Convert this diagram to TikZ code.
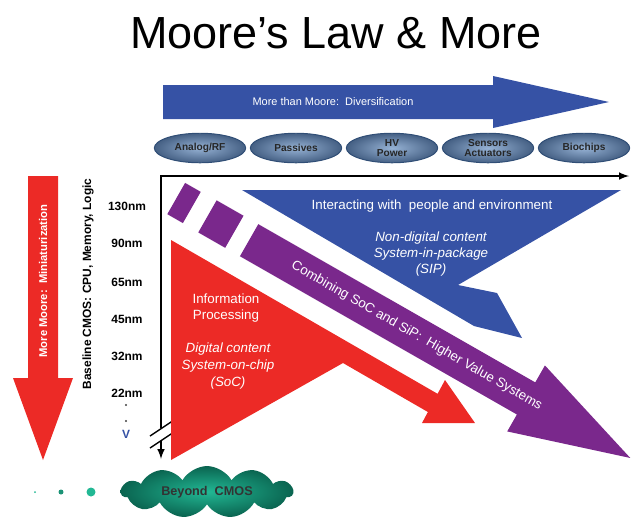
\documentclass[tikz,border=0pt]{standalone}
\usepackage{fontspec}
\setmainfont{Liberation Sans}
\usetikzlibrary{positioning, arrows, shapes.geometric, shapes.symbols}

\definecolor{mmblue}{RGB}{54,82,165}
\definecolor{mmpurple}{RGB}{122,40,140}
\definecolor{mmred}{RGB}{236,42,38}
\definecolor{mmsteel}{RGB}{150,178,212}
\definecolor{mmsteeldark}{RGB}{48,78,118}
\definecolor{mmteal}{RGB}{34,184,148}
\definecolor{mmtealdark}{RGB}{10,100,80}

\tikzset{
  techbubble/.style={ellipse, draw=mmsteeldark, line width=0.7pt, inner color=mmsteel, outer color=mmsteeldark!90, minimum width=65pt, minimum height=21pt, inner sep=0pt, font=\fontsize{7.2}{7.6}\selectfont\bfseries, text=black!85, align=center},
  nmlabel/.style={font=\fontsize{8.5}{9}\selectfont\bfseries},
  whitetext/.style={text=white, font=\fontsize{9.5}{11.5}\selectfont, align=center}
}

\begin{document}
\begin{tikzpicture}[x=0.025cm, y=-0.025cm, line join=miter]

    \useasboundingbox (0,0) rectangle (631,516);

    % Title
    \node (title) at (336,33) {\fontsize{32}{36}\selectfont Moore's Law \& More};

    % Top arrow (more than moore)
    \fill[mmblue] (163,85) -- (493,85) -- (493,76) -- (609,102) -- (493,128) -- (493,119) -- (163,119) -- cycle;
    \node[text=white, font=\fontsize{7.8}{9}\selectfont] (diversify) at (333,102) {More than Moore:\ \ Diversification};

    % Technology bubbles
    \node[techbubble] (analog) at (200,148) {Analog/RF};
    \node[techbubble] (passives) at (296,148) {Passives};
    \node[techbubble] (hvpower) at (392,148) {HV\\Power};
    \node[techbubble] (sensors) at (488,148) {Sensors\\Actuators};
    \node[techbubble] (biochips) at (584,148) {Biochips};

    % Left arrow (more moore)
    \fill[mmred] (28,176) -- (58,176) -- (58,378) -- (73,378) -- (43,460) -- (13,378) -- (28,378) -- cycle;
    \node[rotate=90, text=white, font=\fontsize{8}{9}\selectfont\bfseries] (moremoore) at (43,281) {More Moore:\ \ Miniaturization};

    % Baseline text and nodes
    \node[rotate=90, nmlabel] (baseline) at (88,284) {Baseline CMOS:\ CPU, Memory, Logic};
    \node[nmlabel] (n130) at (127,206) {130nm};
    \node[nmlabel] (n90) at (127,243) {90nm};
    \node[nmlabel] (n65) at (127,282) {65nm};
    \node[nmlabel] (n45) at (127,319) {45nm};
    \node[nmlabel] (n32) at (127,356) {32nm};
    \node[nmlabel] (n22) at (127,393) {22nm};
    \fill[black!75] (126,405) circle (1.2);
    \fill[black!75] (126,421) circle (1.2);
    \node[nmlabel, text=mmblue] (vmark) at (126,434) {V};

    % Axes with break
    \draw[line width=1.4pt, -latex] (161,428) -- (161,176) -- (629,176);
    \draw[line width=1.4pt, -latex] (161,441) -- (161,459);
    \draw[line width=1pt] (150,436) -- (174,420);
    \draw[line width=1pt] (150,448) -- (174,432);

    % Blue lower arrow
    \fill[mmblue] (242,190) -- (621,190) -- (458,285) -- (497,293) -- (522,338) -- (474,326) -- cycle;
    \node[whitetext] (interact) at (432,206) {Interacting with\ \ people and environment};
    \node[whitetext, font=\fontsize{9.5}{11.5}\selectfont\itshape] (nondigital) at (431,254) {Non-digital content\\System-in-package\\(SIP)};

    % Red lower arrow
    \fill[mmred] (171,240) -- (437.6,393.8) -- (445,380) -- (475,423) -- (422,423) -- (427.9,412) -- (343,363) -- (171,460) -- cycle;
    \node[whitetext] (infoproc) at (226,308) {Information\\Processing};
    \node[whitetext, font=\fontsize{9.5}{12}\selectfont\itshape] (digital) at (228,366) {Digital content\\System-on-chip\\(SoC)};

    % Purple band (rotated frame)
    \begin{scope}[shift={(184,203)}, rotate=-29.74]
      \fill[mmpurple] (-9,-18) rectangle (9,18);
      \fill[mmpurple] (27,-18.5) rectangle (58,18.5);
      \fill[mmpurple] (75,-18.5) -- (394,-18.5) -- (394,-38) -- (514,0) -- (394,38) -- (394,18.5) -- (75,18.5) -- cycle;
      \node[whitetext, rotate=-29.74] (combining) at (268,0) {Combining SoC and SiP:\ \ Higher Value Systems};
    \end{scope}

    % Beyond CMOS
    \fill[mmteal] (35,492) circle (1);
    \fill[mmteal!80!black] (61,492) circle (2.5);
    \fill[mmteal] (91,492) circle (4.5);
    \node[cloud, cloud puffs=11, cloud puff arc=120, cloud ignores aspect, minimum width=122pt, minimum height=31pt, inner color=mmteal, outer color=mmtealdark, font=\fontsize{9}{10}\selectfont\bfseries, text=black!80] (beyond) at (207,492) {Beyond\ \ CMOS};

\end{tikzpicture}
\end{document}
